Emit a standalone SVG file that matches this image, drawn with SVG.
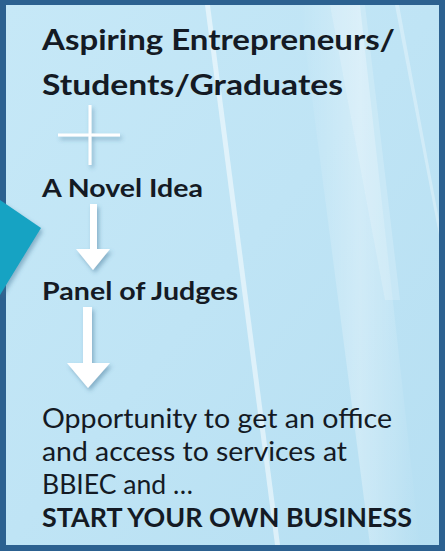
<svg xmlns="http://www.w3.org/2000/svg" width="445" height="551" viewBox="0 0 445 551">
<defs>
<linearGradient id="bg" x1="0" y1="0" x2="1" y2="1">
<stop offset="0" stop-color="#c6e8f7"/>
<stop offset="0.5" stop-color="#bfe4f5"/>
<stop offset="1" stop-color="#b6dff2"/>
</linearGradient>
<linearGradient id="sheen" x1="0" y1="0" x2="1" y2="0">
<stop offset="0" stop-color="#ffffff" stop-opacity="0"/>
<stop offset="0.5" stop-color="#ffffff" stop-opacity="0.3"/>
<stop offset="1" stop-color="#ffffff" stop-opacity="0"/>
</linearGradient>
<filter id="sh" x="-30%" y="-30%" width="160%" height="160%">
<feDropShadow dx="2" dy="3" stdDeviation="2" flood-color="#3a6f8f" flood-opacity="0.45"/>
</filter>
<style>
.t{font-family:Lato,"Open Sans","Liberation Sans",sans-serif;fill:#141a24;}
.b{font-weight:bold;}
.wh{fill:#ffffff;}
</style>
</defs>
<rect x="0" y="0" width="445" height="551" fill="#2c6190"/>
<rect x="6" y="5" width="433" height="540" fill="url(#bg)"/>
<g id="sheens">
<polygon points="205,5 210,5 280,545 275,545" fill="#ffffff" opacity="0.5"/>
<polygon points="300,5 360,5 420,545 370,545" fill="url(#sheen)"/>
<polygon points="330,5 365,5 400,300 385,300" fill="#ffffff" opacity="0.18"/>
<polygon points="395,5 399,5 439,220 439,235" fill="#ffffff" opacity="0.3"/>
</g>
<g id="pointer">
<polygon points="0,200 41,228 0,295" fill="#17a3c3" filter="url(#sh)"/>
</g>
<g id="n1">
<text class="t b" x="42" y="50" font-size="29" textLength="353" lengthAdjust="spacingAndGlyphs">Aspiring Entrepreneurs/</text>
<text class="t b" x="42" y="95" font-size="29" textLength="301" lengthAdjust="spacingAndGlyphs">Students/Graduates</text>
</g>
<g id="plus" filter="url(#sh)">
<rect x="88.5" y="105" width="3" height="60" class="wh"/>
<rect x="58" y="133.5" width="62" height="3" class="wh"/>
</g>
<g id="n2">
<text class="t b" x="42" y="197" font-size="25" textLength="161" lengthAdjust="spacingAndGlyphs">A Novel Idea</text>
</g>
<g id="n3">
<text class="t b" x="42" y="300" font-size="25" textLength="196" lengthAdjust="spacingAndGlyphs">Panel of Judges</text>
</g>
<g id="n4">
<text class="t" x="42" y="428" font-size="27" textLength="350" lengthAdjust="spacingAndGlyphs">Opportunity to get an office</text>
<text class="t" x="42" y="461" font-size="27" textLength="305" lengthAdjust="spacingAndGlyphs">and access to services at</text>
<text class="t" x="42" y="494" font-size="27" textLength="151" lengthAdjust="spacingAndGlyphs">BBIEC and …</text>
<text class="t b" x="42" y="527" font-size="26" textLength="370" lengthAdjust="spacingAndGlyphs">START YOUR OWN BUSINESS</text>
</g>
<g id="connectors" filter="url(#sh)">
<polygon points="90,204 97,204 97,249 110,249 93,270 76,249 90,249" class="wh"/>
<polygon points="83,307 92,307 92,363 110,363 88,388 67,363 83,363" class="wh"/>
</g>
</svg>
